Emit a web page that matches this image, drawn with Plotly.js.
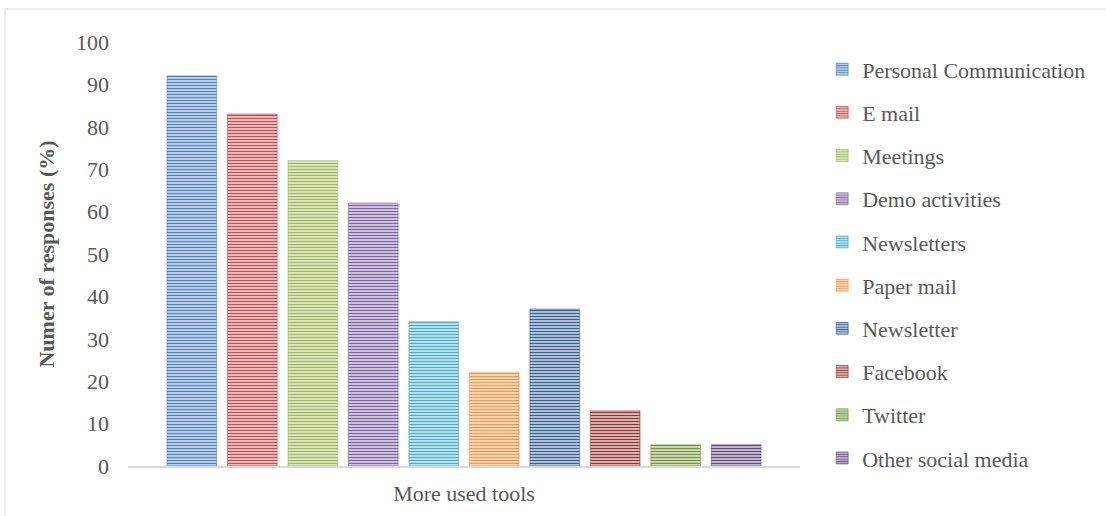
<!DOCTYPE html>
<html>
<head>
<meta charset="utf-8">
<script src="https://cdn.plot.ly/plotly-3.0.1.min.js"></script>
<style>
  html, body { margin: 0; padding: 0; background: #ffffff; }
  #chart { width: 1106px; height: 516px; }
</style>
</head>
<body>
<div id="chart"></div>
<script>
// Communication tools and the share of responses naming each one
const category = 'More used tools';
const tools = [
  'Personal Communication', 'E mail', 'Meetings', 'Demo activities',
  'Newsletters', 'Paper mail', 'Newsletter', 'Facebook', 'Twitter',
  'Other social media'
];
const shares = [92, 83, 72, 62, 34, 22, 37, 13, 5, 5];
const stripeColors = [
  '#4F81BD', '#C0504D', '#9BBB59', '#8064A2', '#4BACC6',
  '#F79646', '#376092', '#953735', '#77933C', '#604A7B'
];
const yTicks = [0, 10, 20, 30, 40, 50, 60, 70, 80, 90, 100];

const textGrey = '#595959';
const serif = 'Liberation Serif, Times New Roman, serif';

// One bar trace per tool, all grouped under the single category
const traces = tools.map((name, i) => ({
  type: 'bar',
  name: name,
  x: [category],
  y: [shares[i]],
  legendgroup: 'g' + i,
  marker: {
    color: stripeColors[i],
    line: { color: stripeColors[i], width: 0.6 },
    pattern: {
      shape: '-',
      fgcolor: stripeColors[i],
      bgcolor: '#ffffff',
      size: 3,
      solidity: 0.6,
      fillmode: 'replace'
    }
  },
  hoverinfo: 'name+y'
}));

const layout = {
  width: 1106,
  height: 516,
  margin: { l: 128, r: 306, t: 42, b: 50 },
  paper_bgcolor: '#ffffff',
  plot_bgcolor: '#ffffff',
  barmode: 'group',
  bargap: 0.1,
  bargroupgap: 0.18,
  font: { family: serif, color: textGrey, size: 22 },
  xaxis: {
    type: 'category',
    range: [-0.5, 0.5],
    showline: true,
    linecolor: '#d9d9d9',
    linewidth: 2,
    ticks: '',
    showgrid: false,
    zeroline: false,
    ticklabelstandoff: 7,
    tickfont: { family: serif, color: textGrey, size: 22 }
  },
  yaxis: {
    range: [0, 100],
    tickvals: yTicks,
    ticktext: yTicks.map(String),
    showgrid: false,
    zeroline: false,
    showline: false,
    ticks: '',
    ticklabelstandoff: 18,
    tickfont: { family: serif, color: textGrey, size: 22 },
    title: {
      text: '<b>Numer of responses (%)</b>',
      font: { family: serif, color: textGrey, size: 22 },
      standoff: 15
    }
  },
  legend: {
    x: 1.033,
    xanchor: 'left',
    y: 0.985,
    yanchor: 'top',
    maxheight: 480,
    traceorder: 'grouped',
    tracegroupgap: 11.6,
    font: { family: serif, color: textGrey, size: 22 },
    bgcolor: 'rgba(0,0,0,0)'
  },
  shapes: [{
    type: 'rect',
    xref: 'paper', yref: 'paper',
    x0: -0.183, x1: 1.6,
    y0: -0.5, y1: 1.078,
    line: { color: '#d9d9d9', width: 1 },
    fillcolor: 'rgba(0,0,0,0)',
    layer: 'below'
  }],
  showlegend: true
};

Plotly.newPlot('chart', traces, layout, { displayModeBar: false, staticPlot: true });
</script>
</body>
</html>
